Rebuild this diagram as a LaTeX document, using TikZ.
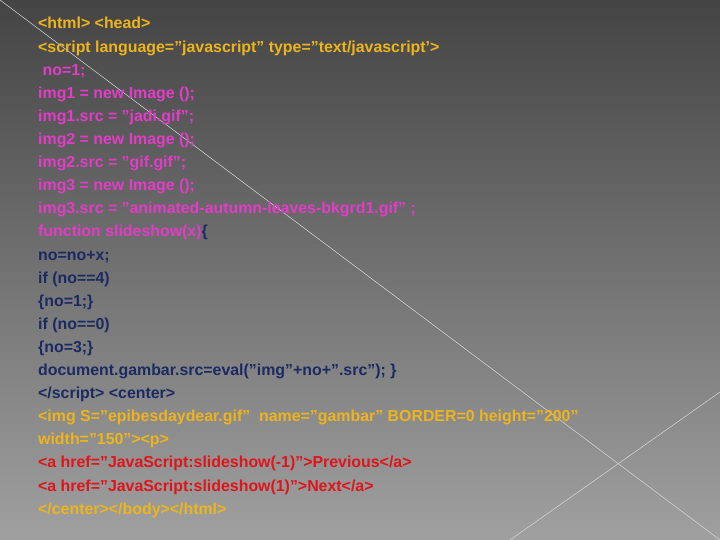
\documentclass[tikz,border=0pt]{standalone}
\usepackage{fontspec}
\setmainfont{Liberation Sans}
\definecolor{cy}{HTML}{EDB41E}
\definecolor{cm}{HTML}{E23CC8}
\definecolor{cn}{HTML}{1B2A63}
\definecolor{cr}{HTML}{E0141A}
\definecolor{bgtop}{HTML}{444444}
\definecolor{bgbot}{HTML}{A0A0A0}
\begin{document}
\begin{tikzpicture}[x=1pt,y=-1pt,
  ln/.style={anchor=base west,inner sep=0pt,font=\bfseries\fontsize{15.9}{15.9}\selectfont}]
\useasboundingbox (0,0) rectangle (720,540);
\shade[top color=bgtop,bottom color=bgbot] (0,0) rectangle (720,540);
\draw[white!70!gray,line width=0.5pt] (0,0) -- (720,540);
\draw[white!70!gray,line width=0.5pt] (720,392) -- (510,540);
\def\L#1#2#3{\node[ln,text=#2] (l#1) at (38,{29+23.1*#1}) {#3};}
\L{0}{cy}{<html> <head>}
\L{1}{cy}{<script language="javascript" type="text/javascript'>}
\L{2}{cm}{\ no=1;}
\L{3}{cm}{img1 = new Image ();}
\L{4}{cm}{img1.src = "jadi.gif";}
\L{5}{cm}{img2 = new Image ();}
\L{6}{cm}{img2.src = "gif.gif";}
\L{7}{cm}{img3 = new Image ();}
\L{8}{cm}{img3.src = "animated-autumn-leaves-bkgrd1.gif" ;}
\L{9}{cm}{function slideshow(x)\textcolor{cn}{\{}}
\L{10}{cn}{no=no+x;}
\L{11}{cn}{if (no==4)}
\L{12}{cn}{\{no=1;\}}
\L{13}{cn}{if (no==0)}
\L{14}{cn}{\{no=3;\}}
\L{15}{cn}{document.gambar.src=eval("img"+no+".src"); \}}
\L{16}{cn}{</script> <center>}
\L{17}{cy}{<img S="epibesdaydear.gif" \ name="gambar" BORDER=0 height="200"}
\L{18}{cy}{width="150"><p>}
\L{19}{cr}{<a href="JavaScript:slideshow(-1)">Previous</a>}
\L{20}{cr}{<a href="JavaScript:slideshow(1)">Next</a>}
\L{21}{cy}{</center></body></html>}
\end{tikzpicture}
\end{document}
